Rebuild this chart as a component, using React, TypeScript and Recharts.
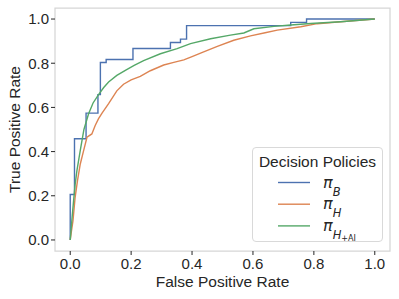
import { LineChart, Line, XAxis, YAxis, ReferenceArea } from 'recharts';

const FONT = '"Liberation Sans", Arial, sans-serif';
const MATH = '"DejaVu Sans", sans-serif';
const INK = '#262626';
const FRAME = '#d6d6d6';

const AXIS_TICKS = [0, 0.2, 0.4, 0.6, 0.8, 1.0];

// pi_B: step ROC, vertices
const FPR_B = [0, 0, 0.014, 0.052, 0.091, 0.099, 0.118, 0.206, 0.329, 0.362, 0.382, 0.724, 0.776, 1.0];
const TPR_B = [0, 0.206, 0.458, 0.574, 0.658, 0.803, 0.817, 0.867, 0.894, 0.909, 0.97, 0.985, 1.0, 1.0];

// pi_H
const FPR_H = [0, 0.004, 0.009, 0.016, 0.024, 0.033, 0.045, 0.055, 0.071, 0.082, 0.093, 0.105, 0.126, 0.153, 0.175, 0.2, 0.23, 0.263, 0.307, 0.34, 0.373, 0.4, 0.428, 0.483, 0.537, 0.592, 0.64, 0.68, 0.757, 0.811, 0.888, 1.0];
const TPR_H = [0, 0.04, 0.086, 0.192, 0.27, 0.344, 0.41, 0.465, 0.48, 0.518, 0.549, 0.575, 0.617, 0.675, 0.705, 0.725, 0.74, 0.766, 0.792, 0.804, 0.815, 0.83, 0.846, 0.876, 0.904, 0.924, 0.938, 0.95, 0.965, 0.979, 0.988, 1.0];

// pi_H+AI
const FPR_AI = [0, 0.006, 0.011, 0.016, 0.022, 0.033, 0.045, 0.06, 0.075, 0.093, 0.11, 0.126, 0.153, 0.181, 0.21, 0.241, 0.296, 0.351, 0.395, 0.461, 0.526, 0.57, 0.603, 0.669, 0.724, 0.789, 0.888, 1.0];
const TPR_AI = [0, 0.1, 0.177, 0.25, 0.314, 0.405, 0.5, 0.57, 0.62, 0.658, 0.69, 0.715, 0.745, 0.768, 0.79, 0.812, 0.843, 0.866, 0.889, 0.911, 0.927, 0.937, 0.956, 0.967, 0.973, 0.98, 0.988, 1.0];

const SERIES = [
  { key: 'B', sub: 'B', subsub: '', color: '#4C72B0', fpr: FPR_B, tpr: TPR_B, curve: 'stepAfter' as const },
  { key: 'H', sub: 'H', subsub: '', color: '#DD8452', fpr: FPR_H, tpr: TPR_H, curve: 'linear' as const },
  { key: 'HAI', sub: 'H', subsub: '+AI', color: '#55A868', fpr: FPR_AI, tpr: TPR_AI, curve: 'linear' as const },
];

const toPoints = (fpr: number[], tpr: number[]) => fpr.map((x, i) => ({ fpr: x, tpr: tpr[i] }));

const fmt = (v: number) => v.toFixed(1);

const YLabel = ({ viewBox }: any) => {
  const x = 20;
  const y = viewBox.y + viewBox.height / 2;
  return (
    <text
      x={x}
      y={y}
      transform={`rotate(-90 ${x} ${y})`}
      textAnchor="middle"
      fill={INK}
      fontSize={15.5}
      fontFamily={FONT}
    >
      True Positive Rate
    </text>
  );
};

function PolicyLegend() {
  return (
    <svg width={399} height={299} style={{ position: 'absolute', left: 0, top: 0, pointerEvents: 'none' }}>
      <rect x={252.5} y={147.5} width={130} height={94} rx={3.5} fill="#fff" fillOpacity={0.8} stroke="#d9d9d9" />
      <text x={317.5} y={166.5} textAnchor="middle" fill={INK} fontSize={15.5} fontFamily={FONT}>
        Decision Policies
      </text>
      {SERIES.map((s, i) => {
        const y = 182.5 + i * 21.7;
        return (
          <g key={s.key}>
            <line x1={278} x2={310} y1={y} y2={y} stroke={s.color} strokeWidth={1.4} />
            <text x={323} y={y + 5} fill={INK} fontFamily={MATH} fontStyle="italic">
              <tspan fontSize={16}>π</tspan>
              <tspan fontSize={11.5} dy={8}>{s.sub}</tspan>
              {s.subsub ? (
                <tspan fontSize={8} fontStyle="normal" dy={2}>{s.subsub}</tspan>
              ) : null}
            </text>
          </g>
        );
      })}
    </svg>
  );
}

export default function App() {
  const tickStyle = { fill: INK, fontSize: 15, fontFamily: FONT };
  return (
    <div style={{ position: 'absolute', left: 0, top: 0, width: 399, height: 299, background: '#fff' }}>
      <LineChart width={399} height={299} margin={{ top: 8, right: 9, left: 0, bottom: 0 }}>
        <ReferenceArea
          x1={-0.05}
          x2={1.05}
          y1={-0.05}
          y2={1.05}
          fill="none"
          stroke={FRAME}
          strokeWidth={1.25}
          ifOverflow="visible"
        />
        <XAxis
          type="number"
          dataKey="fpr"
          domain={[-0.05, 1.05]}
          ticks={AXIS_TICKS}
          tickFormatter={fmt}
          height={48}
          axisLine={false}
          tickSize={4}
          tickMargin={3}
          tickLine={{ stroke: INK }}
          tick={tickStyle}
          label={{ value: 'False Positive Rate', position: 'insideBottom', offset: 12, fill: INK, fontSize: 15.5, fontFamily: FONT }}
        />
        <YAxis
          type="number"
          domain={[-0.05, 1.05]}
          ticks={AXIS_TICKS}
          tickFormatter={fmt}
          width={55}
          axisLine={false}
          tickSize={4}
          tickMargin={2}
          tickLine={{ stroke: INK }}
          tick={tickStyle}
          label={<YLabel />}
        />
        {SERIES.map((s) => (
          <Line
            key={s.key}
            data={toPoints(s.fpr, s.tpr)}
            dataKey="tpr"
            type={s.curve}
            stroke={s.color}
            strokeWidth={1.4}
            dot={false}
            activeDot={false}
            isAnimationActive={false}
          />
        ))}
      </LineChart>
      <PolicyLegend />
    </div>
  );
}
